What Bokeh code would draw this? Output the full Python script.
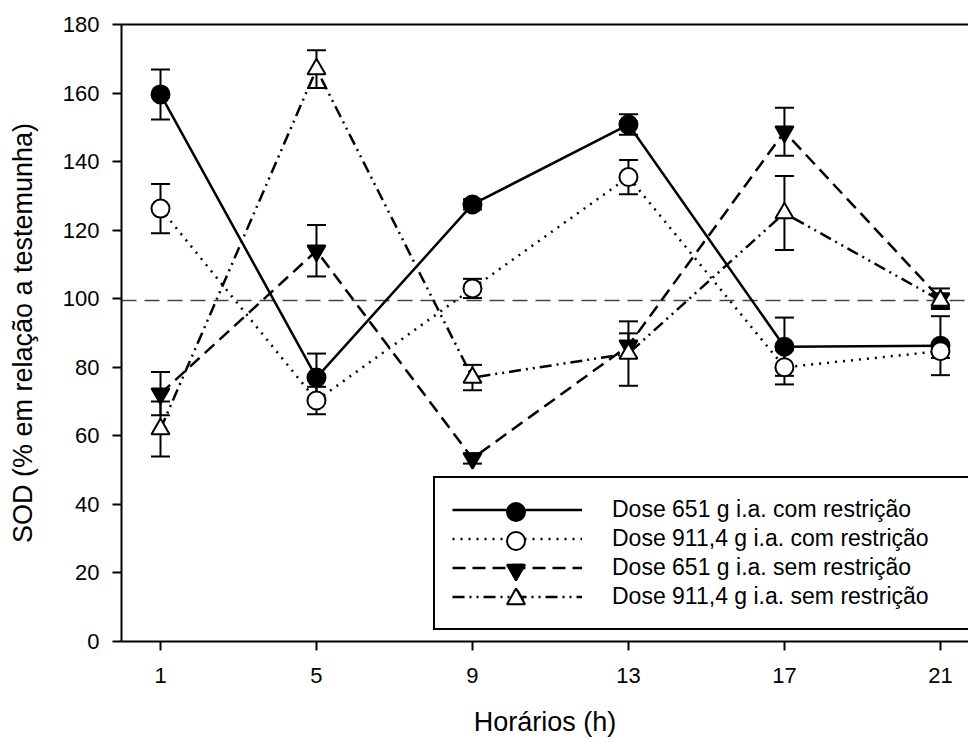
from bokeh.plotting import figure
from bokeh.models import (ColumnDataSource, Whisker, TeeHead, Span, Legend, LegendItem,
                          LinearAxis, FixedTicker, Range1d)
from bokeh.embed import file_html
from bokeh.resources import INLINE

# ---- data ----
hours = [1, 5, 9, 13, 17, 21]
y_ticks = [0, 20, 40, 60, 80, 100, 120, 140, 160, 180]

labels = [
    "Dose 651 g i.a. com restrição",
    "Dose 911,4 g i.a. com restrição",
    "Dose 651 g i.a. sem restrição",
    "Dose 911,4 g i.a. sem restrição",
]

s1 = [159.6, 77.0, 127.5, 150.8, 86.0, 86.3]
e1 = [7.3, 7.0, 1.5, 3.0, 8.5, 8.6]
s2 = [126.3, 70.3, 103.0, 135.5, 80.0, 84.7]
e2 = [7.2, 4.0, 2.8, 5.0, 5.0, 2.0]
s3 = [72.3, 114.0, 53.4, 86.3, 148.7, 100.0]
e3 = [6.3, 7.5, 1.5, 3.6, 7.0, 3.0]
s4 = [62.0, 167.0, 77.0, 84.0, 125.0, 99.5]
e4 = [8.0, 5.5, 3.7, 9.4, 10.8, 2.0]

reference = 99.5

FONT = "Liberation Sans"

p = figure(width=968, height=740, x_range=Range1d(0, 21.72), y_range=Range1d(0, 180),
           output_backend="svg", toolbar_location=None,
           min_border_left=121, min_border_right=0, min_border_top=24, min_border_bottom=99)
p.background_fill_color = "white"
p.border_fill_color = "white"
p.outline_line_color = None
p.xgrid.visible = False
p.ygrid.visible = False

p.xaxis.ticker = FixedTicker(ticks=hours)
p.yaxis.ticker = FixedTicker(ticks=y_ticks)
for ax in (p.xaxis[0], p.yaxis[0]):
    ax.axis_line_width = 2
    ax.axis_line_color = "black"
    ax.major_tick_line_width = 2
    ax.major_tick_line_color = "black"
    ax.major_tick_out = 9
    ax.major_tick_in = 0
    ax.minor_tick_line_color = None
    ax.major_label_text_font = FONT
    ax.major_label_text_font_size = "22px"
    ax.major_label_text_color = "black"
    ax.axis_label_text_font = FONT
    ax.axis_label_text_font_size = "27px"
    ax.axis_label_text_font_style = "normal"
    ax.axis_label_text_color = "black"

p.xaxis.axis_label = "Horários (h)"
p.yaxis.axis_label = "SOD (% em relação a testemunha)"
p.xaxis.major_label_standoff = 17
p.yaxis.major_label_standoff = 13
p.xaxis.axis_label_standoff = 21
p.yaxis.axis_label_standoff = 22

top = LinearAxis(ticker=FixedTicker(ticks=[]), major_label_text_font_size="0px",
                 axis_line_width=2, axis_line_color="black",
                 major_tick_line_color=None, minor_tick_line_color=None)
p.add_layout(top, "above")

ref = Span(location=reference, dimension="width", line_dash="15 8",
           line_color="#444444", line_width=1.5, level="underlay")
p.add_layout(ref)

series = [
    (s1, e1, "circle", "black", "solid"),
    (s2, e2, "circle", "white", "2 6"),
    (s3, e3, "inverted_triangle", "black", "13 7"),
    (s4, e4, "triangle", "white", "12 5 2 5 2 5"),
]

specs = []
for (vals, errs, mk, fill, dash), lab in zip(series, labels):
    src = ColumnDataSource(dict(
        x=hours, y=vals,
        upper=[v + e for v, e in zip(vals, errs)],
        lower=[v - e for v, e in zip(vals, errs)],
    ))
    w = Whisker(source=src, base="x", upper="upper", lower="lower", level="underlay",
                line_width=2, line_color="black",
                upper_head=TeeHead(size=19, line_width=2, line_color="black"),
                lower_head=TeeHead(size=19, line_width=2, line_color="black"))
    p.add_layout(w)
    lr = p.line("x", "y", source=src, line_width=2.5, line_color="black", line_dash=dash)
    specs.append((src, mk, fill, lr, lab))

items = []
marker_renderers = []
for src, mk, fill, lr, lab in specs:
    mr = p.scatter("x", "y", source=src, marker=mk, size=18, fill_color=fill,
                   line_color="black", line_width=2)
    marker_renderers.append(mr)
    items.append(LegendItem(label=lab, renderers=[lr, mr]))

legend = Legend(items=items, location=(312, 11),
                border_line_color="black", border_line_width=2, border_line_alpha=1,
                background_fill_color="white", background_fill_alpha=1,
                padding=17, spacing=0, glyph_width=130, glyph_height=29, label_height=29,
                label_width=365, label_standoff=30, label_text_font=FONT,
                label_text_font_size="23px", label_text_color="black")
p.add_layout(legend)

# larger legend markers, drawn over the main legend rows
for k, mr in enumerate(marker_renderers):
    ov = Legend(items=[LegendItem(label=" ", renderers=[mr])],
                location=(372, 107 - 29 * k),
                border_line_color=None, background_fill_alpha=0,
                padding=0, spacing=0, glyph_width=45, glyph_height=45,
                label_standoff=0, label_text_font_size="1px")
    p.add_layout(ov)

open("out.html", "w").write(file_html(p, INLINE))
